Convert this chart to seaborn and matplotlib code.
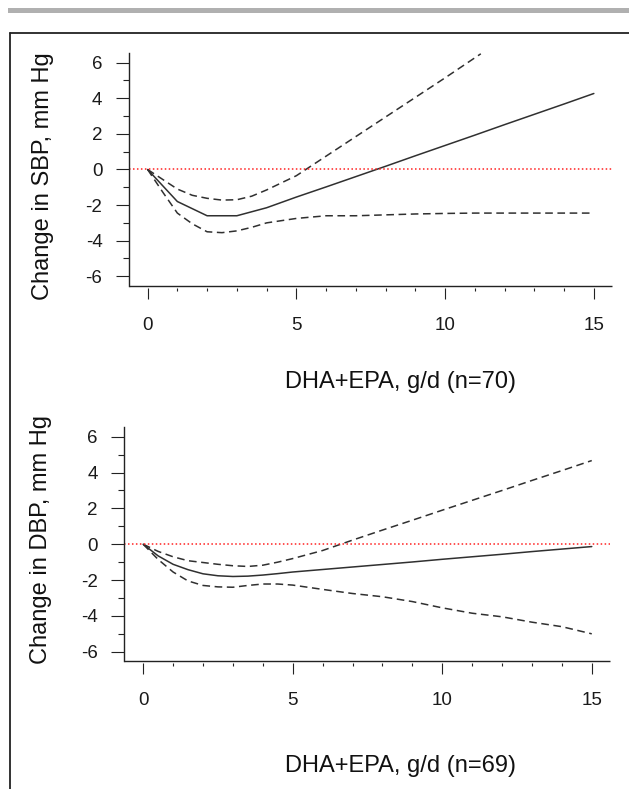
import numpy as np
import pandas as pd
import matplotlib
matplotlib.use("Agg")
import matplotlib.pyplot as plt
from matplotlib.lines import Line2D
from matplotlib.patches import Rectangle
from matplotlib.ticker import MultipleLocator
import seaborn as sns

# ---- data: dose-response of DHA+EPA intake on blood pressure change ----
# Systolic (n=70)
sbp_x = [0, 1, 2, 3, 4, 5, 6, 7, 8, 9, 10, 11, 12, 13, 14, 15]
sbp_est = [0, -1.8, -2.6, -2.6, -2.15, -1.55, -0.98, -0.4, 0.18, 0.77,
           1.35, 1.93, 2.52, 3.1, 3.68, 4.27]
sbp_hi_x = [0, 0.5, 1, 1.5, 2, 2.5, 3, 3.5, 4, 5, 6, 7, 8, 9, 10, 11.2]
sbp_hi = [0, -0.55, -1.1, -1.45, -1.62, -1.72, -1.7, -1.5, -1.15, -0.35,
          0.75, 1.85, 2.95, 4.05, 5.15, 6.5]
sbp_lo_x = [0, 0.5, 1, 1.5, 2, 2.5, 3, 3.5, 4, 5, 6, 7, 8, 9, 10, 11, 12,
            13, 14, 15]
sbp_lo = [0, -1.25, -2.45, -3.05, -3.5, -3.55, -3.45, -3.25, -3.0, -2.75,
          -2.6, -2.6, -2.55, -2.5, -2.47, -2.45, -2.45, -2.45, -2.45, -2.45]

# Diastolic (n=69)
dbp_x = [0, 0.5, 1, 1.5, 2, 2.5, 3, 3.5, 4, 4.5, 5, 6, 7, 8, 9, 10, 11,
         12, 13, 14, 15]
dbp_est = [0, -0.65, -1.12, -1.42, -1.65, -1.76, -1.8, -1.78, -1.72, -1.64,
           -1.55, -1.41, -1.27, -1.13, -0.99, -0.84, -0.7, -0.56, -0.41,
           -0.27, -0.13]
dbp_hi = [0, -0.4, -0.7, -0.92, -1.02, -1.12, -1.2, -1.24, -1.17, -1.0,
          -0.8, -0.35, 0.23, 0.79, 1.34, 1.9, 2.45, 3.0, 3.56, 4.11, 4.67]
dbp_lo = [0, -0.85, -1.55, -2.05, -2.3, -2.38, -2.4, -2.3, -2.22, -2.22,
          -2.28, -2.52, -2.75, -2.93, -3.2, -3.55, -3.85, -4.05, -4.35,
          -4.6, -5.0]

x_ticks = [0, 5, 10, 15]
y_ticks = [-6, -4, -2, 0, 2, 4, 6]

sns.set_style("ticks")
plt.rcParams["font.family"] = ["Liberation Sans", "DejaVu Sans"]
plt.rcParams["axes.unicode_minus"] = False

W, H = 629, 789
fig = plt.figure(figsize=(W / 100, H / 100), dpi=100)

line_col = "#303030"
dash = (0, (5, 3))


def px_rect(left, top, right, bottom):
    return [left / W, 1 - bottom / H, (right - left) / W, (bottom - top) / H]


def draw_panel(ax, est_x, est, hi_x, hi, lo_x, lo, ylab, xlab, ylim,
               xlab_pos, ylab_pos):
    sns.lineplot(x=est_x, y=est, ax=ax, color=line_col, lw=1.1)
    sns.lineplot(x=hi_x, y=hi, ax=ax, color=line_col, lw=1.1, linestyle=dash)
    sns.lineplot(x=lo_x, y=lo, ax=ax, color=line_col, lw=1.1, linestyle=dash)
    ax.axhline(0, color="#ff2020", lw=1.1, linestyle=(0, (1, 1.6)))

    ax.set_xlim(-0.632, 15.6)
    ax.set_ylim(*ylim)
    ax.set_xticks(x_ticks)
    ax.set_yticks(y_ticks)
    ax.xaxis.set_minor_locator(MultipleLocator(1))
    ax.yaxis.set_minor_locator(MultipleLocator(1))

    for s in ("top", "right"):
        ax.spines[s].set_visible(False)
    ax.spines["left"].set_linewidth(1.0)
    ax.spines["left"].set_color("#222222")
    # x ticks hang slightly below the axis line
    ax.spines["bottom"].set_position(("outward", 1.7))
    ax.spines["bottom"].set_visible(False)
    ax.plot([0, 1], [0, 0], transform=ax.transAxes, color="#222222",
            lw=1.0, clip_on=False, solid_capstyle="butt")

    ax.tick_params(axis="x", which="major", length=7.9, width=0.8,
                   color="#222222", pad=13.0, labelsize=13.5,
                   labelcolor="#1a1a1a")
    ax.tick_params(axis="x", which="minor", length=2.5, width=0.8,
                   color="#222222")
    ax.tick_params(axis="y", which="major", length=9.6, width=0.8,
                   color="#222222", pad=9.4, labelsize=13.5,
                   labelcolor="#1a1a1a")
    ax.tick_params(axis="y", which="minor", length=4.5, width=0.8,
                   color="#222222")

    ax.set_xlabel(xlab, fontsize=17, color="#111111")
    ax.set_ylabel(ylab, fontsize=17, color="#111111")
    ax.xaxis.set_label_coords(*xlab_pos)
    ax.yaxis.set_label_coords(*ylab_pos)
    ax.xaxis.label.set_verticalalignment("top")


ax1 = fig.add_axes(px_rect(128.8, 53, 611.7, 285.7))
draw_panel(ax1, sbp_x, sbp_est, sbp_hi_x, sbp_hi, sbp_lo_x, sbp_lo,
           "Change in SBP, mm Hg", "DHA+EPA, g/d (n=70)",
           (-6.53, 6.545), (0.563, -0.366), (-0.155, 0.471))

ax2 = fig.add_axes(px_rect(124.3, 426.7, 609.7, 660.7))
draw_panel(ax2, dbp_x, dbp_est, dbp_x, dbp_hi, dbp_x, dbp_lo,
           "Change in DBP, mm Hg", "DHA+EPA, g/d (n=69)",
           (-6.5, 6.56), (0.570, -0.403), (-0.149, 0.516))

# page furniture: grey rule and the box frame around the figure
fig.add_artist(Rectangle((8 / W, 1 - 13.3 / H), 1 - 8 / W, 5 / H,
                         transform=fig.transFigure, facecolor="#b0b0b0",
                         edgecolor="none"))
fig.add_artist(Line2D([9.5 / W, 1.0], [1 - 32.7 / H, 1 - 32.7 / H],
                      transform=fig.transFigure, color="#222222", lw=1.3))
fig.add_artist(Line2D([9.5 / W, 9.5 / W], [1 - 32.7 / H, 0.0],
                      transform=fig.transFigure, color="#222222", lw=1.3))

fig.savefig("out.png", dpi=100)
